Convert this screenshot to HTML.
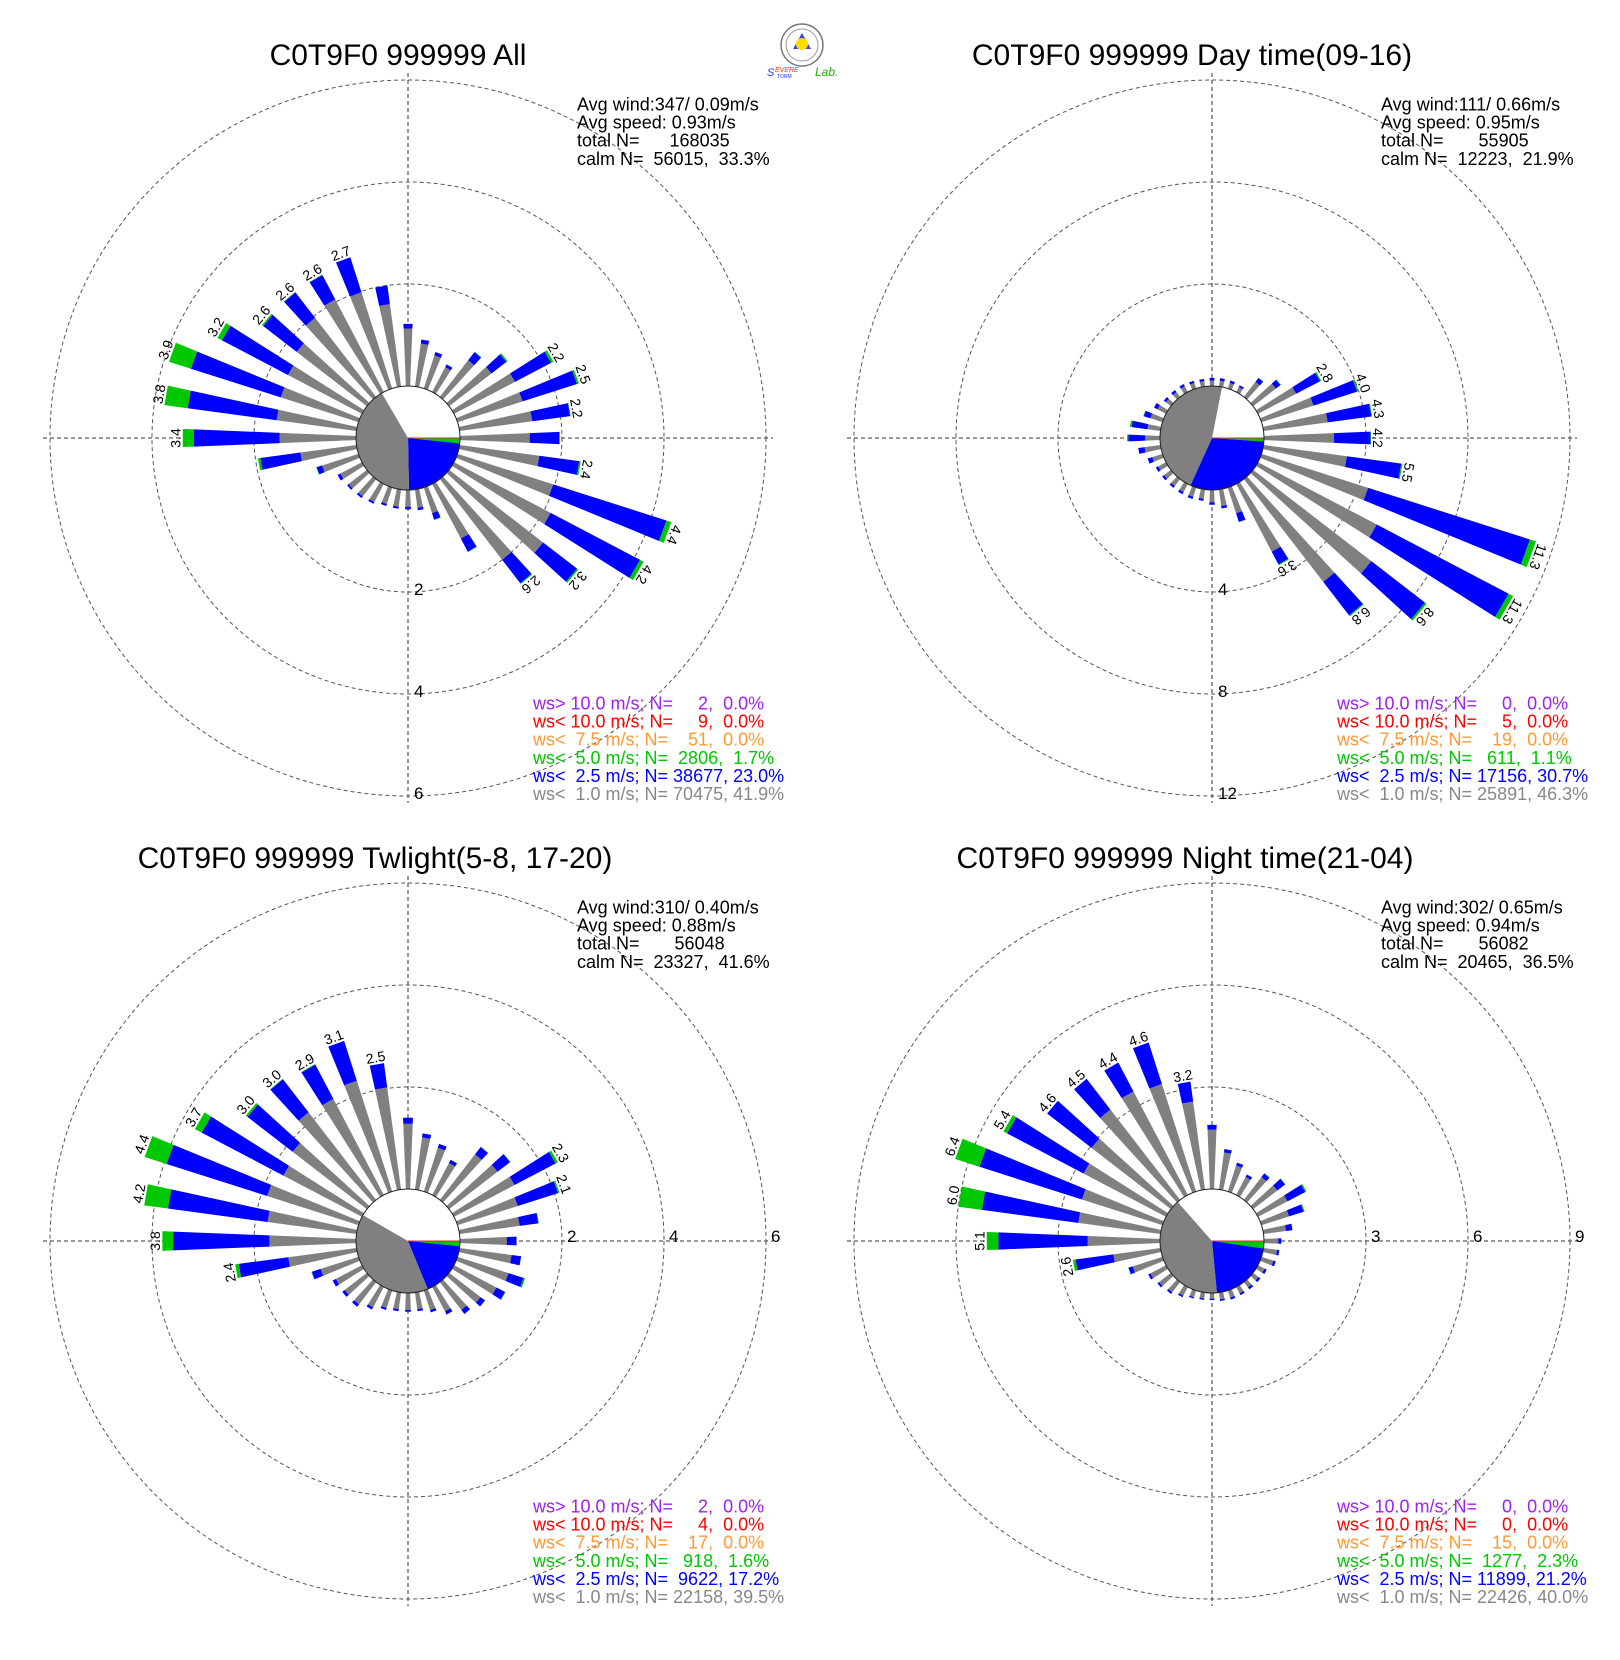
<!DOCTYPE html>
<html>
<head>
<meta charset="utf-8">
<style>
  html,body{margin:0;padding:0;background:#fff;}
  svg{display:block;font-family:"Liberation Sans",Arial,sans-serif;}
  .pre{white-space:pre;}
</style>
</head>
<body>
<svg id="chart" width="1620" height="1660" viewBox="0 0 1620 1660" xmlns="http://www.w3.org/2000/svg">
  <rect x="0" y="0" width="1620" height="1660" fill="#fff"/>
  <g>
    <circle cx="802" cy="45" r="21" fill="#fff" stroke="#777" stroke-width="1.5"/>
    <circle cx="802" cy="45" r="16" fill="none" stroke="#999" stroke-width="1"/>
    <polygon points="802,33 811,49 793,49" fill="#3344ff"/>
    <circle cx="802" cy="44" r="6" fill="#ffdd00"/>
    <text x="767" y="76" font-size="11" font-style="italic" fill="#2233ff">S</text>
    <text x="775" y="72" font-size="7" font-style="italic" fill="#ff3300">EVERE</text>
    <text x="777" y="78" font-size="5" fill="#2233ff">TORM</text>
    <text x="815" y="76" font-size="12" font-style="italic" fill="#22aa00">Lab.</text>
  </g>
</svg>
<script>
// ---- data (directions in degrees, values in % ) ----
const directions = [0,10,20,30,40,50,60,70,80,90,100,110,120,130,140,150,160,170,180,190,200,210,220,230,240,250,260,270,280,290,300,310,320,330,340,350];

const allTotal = [1.22,0.93,0.75,0.61,1.12,1.45,2.2,2.5,2.2,1.96,2.4,4.4,4.2,3.2,2.6,1.51,0.67,0.41,0.38,0.38,0.38,0.44,0.47,0.49,0.54,0.87,1.95,3.4,3.8,3.9,3.2,2.6,2.6,2.6,2.7,2.0];
const allGray  = [1.13,0.85,0.68,0.55,0.91,1.05,1.35,1.34,1.44,1.37,1.58,1.97,2.14,2.33,2.0,1.21,0.53,0.36,0.33,0.34,0.34,0.40,0.43,0.45,0.48,0.75,1.11,1.5,1.58,1.6,1.64,1.74,1.96,2.05,1.98,1.63];
const allGreen = [0,0,0,0,0.01,0.03,0.05,0.04,0.01,0.01,0.03,0.1,0.08,0.03,0.02,0.01,0.01,0,0,0,0,0,0,0,0,0.01,0.05,0.22,0.46,0.45,0.1,0.03,0.01,0.01,0,0];

const dayTotal = [0.32,0.33,0.33,0.30,0.95,1.38,2.8,4.0,4.3,4.2,5.5,11.3,11.3,8.6,6.8,3.6,1.43,0.75,0.58,0.45,0.47,0.45,0.43,0.43,0.45,0.61,0.88,1.29,1.21,0.79,0.53,0.35,0.34,0.35,0.32,0.30];
const dayGray  = [0.22,0.23,0.23,0.22,0.75,1.13,1.69,2.14,2.54,2.75,3.3,4.39,5.26,5.86,5.1,3.0,1.06,0.65,0.48,0.37,0.38,0.36,0.34,0.34,0.35,0.42,0.63,0.58,0.52,0.5,0.38,0.25,0.24,0.25,0.23,0.21];
const dayGreen = [0,0,0,0,0.01,0.03,0.05,0.06,0.03,0.02,0.05,0.25,0.2,0.08,0.05,0.04,0.01,0,0,0,0,0,0,0,0,0,0,0.05,0.07,0.02,0,0,0,0,0,0];

const twiTotal = [1.40,1.11,0.98,0.78,1.32,1.52,2.3,2.1,1.57,1.11,1.22,1.39,1.14,0.89,0.79,0.61,0.45,0.37,0.37,0.37,0.40,0.50,0.61,0.61,0.65,0.97,2.4,3.8,4.2,4.4,3.7,3.0,3.0,2.9,3.1,2.5];
const twiGray  = [1.28,1.03,0.90,0.71,1.13,1.20,1.34,1.24,1.19,0.92,1.03,1.05,0.94,0.78,0.69,0.54,0.40,0.33,0.33,0.33,0.36,0.45,0.55,0.55,0.58,0.78,1.35,1.7,1.76,1.88,1.74,1.84,2.17,2.13,2.28,2.02];
const twiGreen = [0,0,0,0,0.01,0.01,0.05,0.03,0.01,0,0,0.03,0.01,0,0,0,0,0,0,0,0,0,0,0,0,0.01,0.07,0.21,0.47,0.45,0.15,0.04,0.01,0.01,0,0];

const nightTotal = [1.89,1.2,0.89,0.68,1.0,1.2,1.61,1.33,0.86,0.51,0.47,0.44,0.29,0.27,0.27,0.27,0.28,0.25,0.21,0.22,0.25,0.34,0.44,0.5,0.59,1.06,2.6,5.1,6.0,6.4,5.4,4.6,4.5,4.4,4.6,3.2];
const nightGray  = [1.75,1.1,0.8,0.6,0.85,0.9,0.98,0.85,0.67,0.42,0.4,0.37,0.22,0.2,0.2,0.21,0.22,0.2,0.17,0.18,0.21,0.29,0.38,0.44,0.52,0.92,1.4,2.13,2.44,2.49,2.74,2.95,3.36,3.44,3.32,2.61];
const nightGreen = [0,0,0,0,0.02,0.01,0.04,0.03,0,0,0,0,0,0,0,0,0,0,0,0,0,0,0,0,0,0.01,0.08,0.34,0.7,0.75,0.12,0,0,0,0,0];

// pie shares (%): green, blue, gray ; calm is remainder
const pieGreen = [1.7, 1.1, 1.6, 2.3];
const pieBlue  = [23.0, 30.7, 17.2, 21.2];
const pieGray  = [41.9, 46.3, 39.5, 40.0];

const ringTicks = [[2,4,6],[4,8,12],[2,4,6],[3,6,9]];
const titles = ["C0T9F0 999999 All","C0T9F0 999999 Day time(09-16)","C0T9F0 999999 Twlight(5-8, 17-20)","C0T9F0 999999 Night time(21-04)"];
const statLines = [
  ["Avg wind:347/ 0.09m/s","Avg speed: 0.93m/s","total N=      168035","calm N=  56015,  33.3%"],
  ["Avg wind:111/ 0.66m/s","Avg speed: 0.95m/s","total N=       55905","calm N=  12223,  21.9%"],
  ["Avg wind:310/ 0.40m/s","Avg speed: 0.88m/s","total N=       56048","calm N=  23327,  41.6%"],
  ["Avg wind:302/ 0.65m/s","Avg speed: 0.94m/s","total N=       56082","calm N=  20465,  36.5%"]
];
const legendLines = [
  ["ws> 10.0 m/s; N=     2,  0.0%","ws< 10.0 m/s; N=     9,  0.0%","ws<  7.5 m/s; N=    51,  0.0%","ws<  5.0 m/s; N=  2806,  1.7%","ws<  2.5 m/s; N= 38677, 23.0%","ws<  1.0 m/s; N= 70475, 41.9%"],
  ["ws> 10.0 m/s; N=     0,  0.0%","ws< 10.0 m/s; N=     5,  0.0%","ws<  7.5 m/s; N=    19,  0.0%","ws<  5.0 m/s; N=   611,  1.1%","ws<  2.5 m/s; N= 17156, 30.7%","ws<  1.0 m/s; N= 25891, 46.3%"],
  ["ws> 10.0 m/s; N=     2,  0.0%","ws< 10.0 m/s; N=     4,  0.0%","ws<  7.5 m/s; N=    17,  0.0%","ws<  5.0 m/s; N=   918,  1.6%","ws<  2.5 m/s; N=  9622, 17.2%","ws<  1.0 m/s; N= 22158, 39.5%"],
  ["ws> 10.0 m/s; N=     0,  0.0%","ws< 10.0 m/s; N=     0,  0.0%","ws<  7.5 m/s; N=    15,  0.0%","ws<  5.0 m/s; N=  1277,  2.3%","ws<  2.5 m/s; N= 11899, 21.2%","ws<  1.0 m/s; N= 22426, 40.0%"]
];
const legendColors = ["#a020f0","#ff0000","#ff9933","#00c800","#0000ff","#888888"];

// ---- layout ----
const NS = "http://www.w3.org/2000/svg";
const svg = document.getElementById("chart");
const plots = [
  {cx:408, cy:438, total:allTotal, gray:allGray, green:allGreen, mode:"below", name:"all"},
  {cx:1212, cy:438, total:dayTotal, gray:dayGray, green:dayGreen, mode:"below", name:"day"},
  {cx:408, cy:1241, total:twiTotal, gray:twiGray, green:twiGreen, mode:"right", name:"twilight"},
  {cx:1212, cy:1241, total:nightTotal, gray:nightGray, green:nightGreen, mode:"right", name:"night"}
];
const R0 = 52, RING = 102, HALF = 2.3, AXIS = 365;

function mk(tag, attrs, parent){
  const e = document.createElementNS(NS, tag);
  for (const k in attrs) e.setAttribute(k, attrs[k]);
  parent.appendChild(e);
  return e;
}
function pol(cx, cy, r, deg){
  const a = deg*Math.PI/180;
  return [cx + r*Math.sin(a), cy - r*Math.cos(a)];
}
function wedge(cx, cy, r0, r1, a, g, color){
  const p = [pol(cx,cy,r0,a-HALF),pol(cx,cy,r1,a-HALF),pol(cx,cy,r1,a+HALF),pol(cx,cy,r0,a+HALF)];
  return mk("polygon",{points:p.map(q=>q[0].toFixed(2)+","+q[1].toFixed(2)).join(" "), fill:color}, g);
}
function sector(cx, cy, r, a0, a1, color, g){
  const p0 = pol(cx,cy,r,a0), p1 = pol(cx,cy,r,a1);
  const large = (a1-a0) > 180 ? 1 : 0;
  return mk("path",{d:`M${cx},${cy} L${p0[0]},${p0[1]} A${r},${r} 0 ${large} 1 ${p1[0]},${p1[1]} Z`, fill:color}, g);
}

plots.forEach((P, i) => {
  const step = ringTicks[i][0];
  const k = RING/step;
  const rv = v => R0 + v*k;   // radial axis function
  const g = mk("g",{}, svg);
  
  

  // title
  const t = mk("text",{x: (i%2===0? (i===0?398:375) : (i===1?1192:1185)), y: P.cy-373, "font-size":30, "text-anchor":"middle", fill:"#000"}, g);
  t.textContent = titles[i];
  
  

  // axes
  const ax = mk("g",{stroke:"#333","stroke-width":1,"stroke-dasharray":"4,3",fill:"none"}, g);
  
  
  mk("line",{x1:P.cx-AXIS,y1:P.cy,x2:P.cx+AXIS,y2:P.cy}, ax);
  mk("line",{x1:P.cx,y1:P.cy-AXIS,x2:P.cx,y2:P.cy+AXIS}, ax);
  ringTicks[i].forEach(v => {
    const c = mk("circle",{cx:P.cx, cy:P.cy, r:rv(v), stroke:"#555"}, ax);
    
    
  });

  // bars
  const bars = mk("g",{}, g);
  
  
  directions.forEach((d, j) => {
    const tot = P.total[j], gr = P.gray[j], gn = P.green[j];
    const b1 = wedge(P.cx,P.cy,R0-2,rv(gr),d,bars,"#808080");
    
    
    const b2 = wedge(P.cx,P.cy,rv(gr),rv(tot-gn),d,bars,"#0000ff");
    
    
    if (gn > 0){
      const b3 = wedge(P.cx,P.cy,rv(tot-gn),rv(tot),d,bars,"#00c800");
      
      
    }
    if (tot >= 2.05){
      const e = pol(P.cx,P.cy,rv(tot),d);
      const lb = mk("text",{x:0,y:-2,"font-size":14,"text-anchor":"middle",fill:"#000",
        transform:`translate(${e[0].toFixed(2)},${e[1].toFixed(2)}) rotate(${d>180?d-360:d})`}, bars);
      lb.textContent = tot.toFixed(1);
      
      
    }
  });

  // calm circle pie
  const pie = mk("g",{}, g);
  
  
  mk("circle",{cx:P.cx,cy:P.cy,r:R0,fill:"#fff"}, pie);
  let a = 90;
  const gA = pieGreen[i]*3.6, bA = pieBlue[i]*3.6, yA = pieGray[i]*3.6;
  const s1 = sector(P.cx,P.cy,R0,a,a+gA,"#00c800",pie); a += gA;
  
  
  const s2 = sector(P.cx,P.cy,R0,a,a+bA,"#0000ff",pie); a += bA;
  
  
  const s3 = sector(P.cx,P.cy,R0,a,a+yA,"#808080",pie);
  
  
  mk("line",{x1:P.cx,y1:P.cy,x2:P.cx+R0,y2:P.cy,stroke:"#cc3333","stroke-width":1}, pie);
  mk("circle",{cx:P.cx,cy:P.cy,r:R0,fill:"none",stroke:"#222","stroke-width":1}, pie);

  // ring labels
  ringTicks[i].forEach(v => {
    let tx, ty;
    if (P.mode === "below"){ tx = P.cx+6; ty = P.cy + rv(v) + 3; }
    else { tx = P.cx + rv(v) + 5; ty = P.cy + 1; }
    const rl = mk("text",{x:tx,y:ty,"font-size":17,fill:"#000"}, g);
    rl.textContent = String(v);
    
    
  });

  // stats
  const sx = (i%2===0) ? 577 : 1381;
  const sy = P.cy - 327.5;
  statLines[i].forEach((s, n) => {
    const st = mk("text",{x:sx, y:sy + n*18.1, "font-size":18, fill:"#000", class:"pre"}, g);
    st.textContent = s;
    
    
  });

  // legend
  const lx = (i%2===0) ? 533 : 1337;
  const ly = P.cy + 271.3;
  legendLines[i].forEach((s, n) => {
    const lt = mk("text",{x:lx, y:ly + n*18.15, "font-size":18, fill:legendColors[n], class:"pre"}, g);
    lt.textContent = s;
    
    
  });
});
</script>
</body>
</html>
